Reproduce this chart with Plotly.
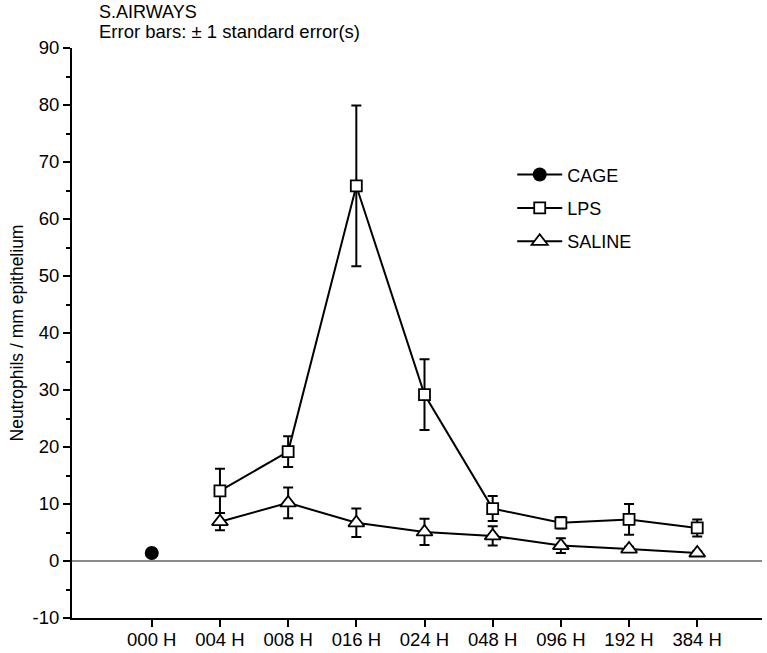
import plotly.graph_objects as go

categories = ["000 H", "004 H", "008 H", "016 H", "024 H", "048 H", "096 H", "192 H", "384 H"]

y_tick_values = [-10, 0, 10, 20, 30, 40, 50, 60, 70, 80, 90]
y_tick_labels = ["-10", "0", "10", "20", "30", "40", "50", "60", "70", "80", "90"]

cage_x = ["000 H"]
cage_y = [1.4]

lps_x = ["004 H", "008 H", "016 H", "024 H", "048 H", "096 H", "192 H", "384 H"]
lps_y = [12.3, 19.2, 65.8, 29.2, 9.2, 6.7, 7.3, 5.8]
lps_se = [3.9, 2.7, 14.1, 6.2, 2.2, 1.0, 2.7, 1.5]

saline_x = ["004 H", "008 H", "016 H", "024 H", "048 H", "096 H", "192 H", "384 H"]
saline_y = [6.9, 10.2, 6.7, 5.1, 4.4, 2.7, 2.1, 1.4]
saline_se = [1.5, 2.7, 2.5, 2.3, 1.7, 1.3, 0.4, 0.3]

FONT = "Liberation Sans, Arial, Helvetica, sans-serif"

fig = go.Figure()

fig.add_trace(go.Scatter(
    x=cage_x, y=cage_y, name="CAGE", mode="lines+markers",
    line=dict(color="black", width=2),
    marker=dict(symbol="circle", size=14, color="black"),
    legendgroup="a",
))
fig.add_trace(go.Scatter(
    x=lps_x, y=lps_y, name="LPS", mode="lines+markers",
    line=dict(color="black", width=2),
    marker=dict(symbol="square", size=11, color="white",
                line=dict(color="black", width=1.8)),
    error_y=dict(type="data", array=lps_se, visible=True,
                 color="black", thickness=2, width=5),
    legendgroup="b",
))
fig.add_trace(go.Scatter(
    x=saline_x, y=saline_y, name="SALINE", mode="lines+markers",
    line=dict(color="black", width=2),
    marker=dict(symbol="triangle-up", size=14, color="white",
                line=dict(color="black", width=1.8)),
    error_y=dict(type="data", array=saline_se, visible=True,
                 color="black", thickness=2, width=5),
    legendgroup="c",
))

fig.update_layout(
    width=767, height=653,
    margin=dict(l=72, r=5, t=48, b=35),
    paper_bgcolor="white", plot_bgcolor="white",
    font=dict(family=FONT, size=18, color="black"),
    showlegend=True,
    legend=dict(x=0.638, y=0.81, xanchor="left", yanchor="top",
                bgcolor="rgba(0,0,0,0)", font=dict(size=18),
                tracegroupgap=7, itemwidth=45),
    annotations=[
        dict(text="S.AIRWAYS",
             xref="paper", yref="paper", x=0.036, y=1.0623,
             xanchor="left", yanchor="middle", align="left",
             showarrow=False, font=dict(size=18, family=FONT)),
        dict(text="Error bars: ± 1 standard error(s)",
             xref="paper", yref="paper", x=0.036, y=1.0289,
             xanchor="left", yanchor="middle", align="left",
             showarrow=False, font=dict(size=18.5, family=FONT)),
    ],
)

fig.update_xaxes(
    type="category", categoryorder="array", categoryarray=categories,
    range=[-1.17, 8.95], automargin=False,
    showgrid=False, zeroline=False,
    showline=True, linecolor="black", linewidth=2,
    ticks="outside", ticklen=7, tickwidth=2, tickcolor="black",
    tickfont=dict(size=18.5), ticklabelstandoff=-3,
)
fig.update_yaxes(
    range=[-10, 90], automargin=False,
    tickmode="array", tickvals=y_tick_values, ticktext=y_tick_labels,
    showgrid=False,
    zeroline=True, zerolinecolor="#8a8a8a", zerolinewidth=1.5,
    showline=True, linecolor="black", linewidth=2,
    ticks="outside", ticklen=7, tickwidth=2, tickcolor="black",
    minor=dict(dtick=5, tick0=0, ticks="outside", ticklen=4, tickwidth=2, tickcolor="black"),
    tickfont=dict(size=18.5),
    title=dict(text="Neutrophils / mm epithelium", font=dict(size=17.5), standoff=4),
)

fig.write_html("out.html", config={"displayModeBar": False},
               post_script="document.body.style.margin='0px';")
